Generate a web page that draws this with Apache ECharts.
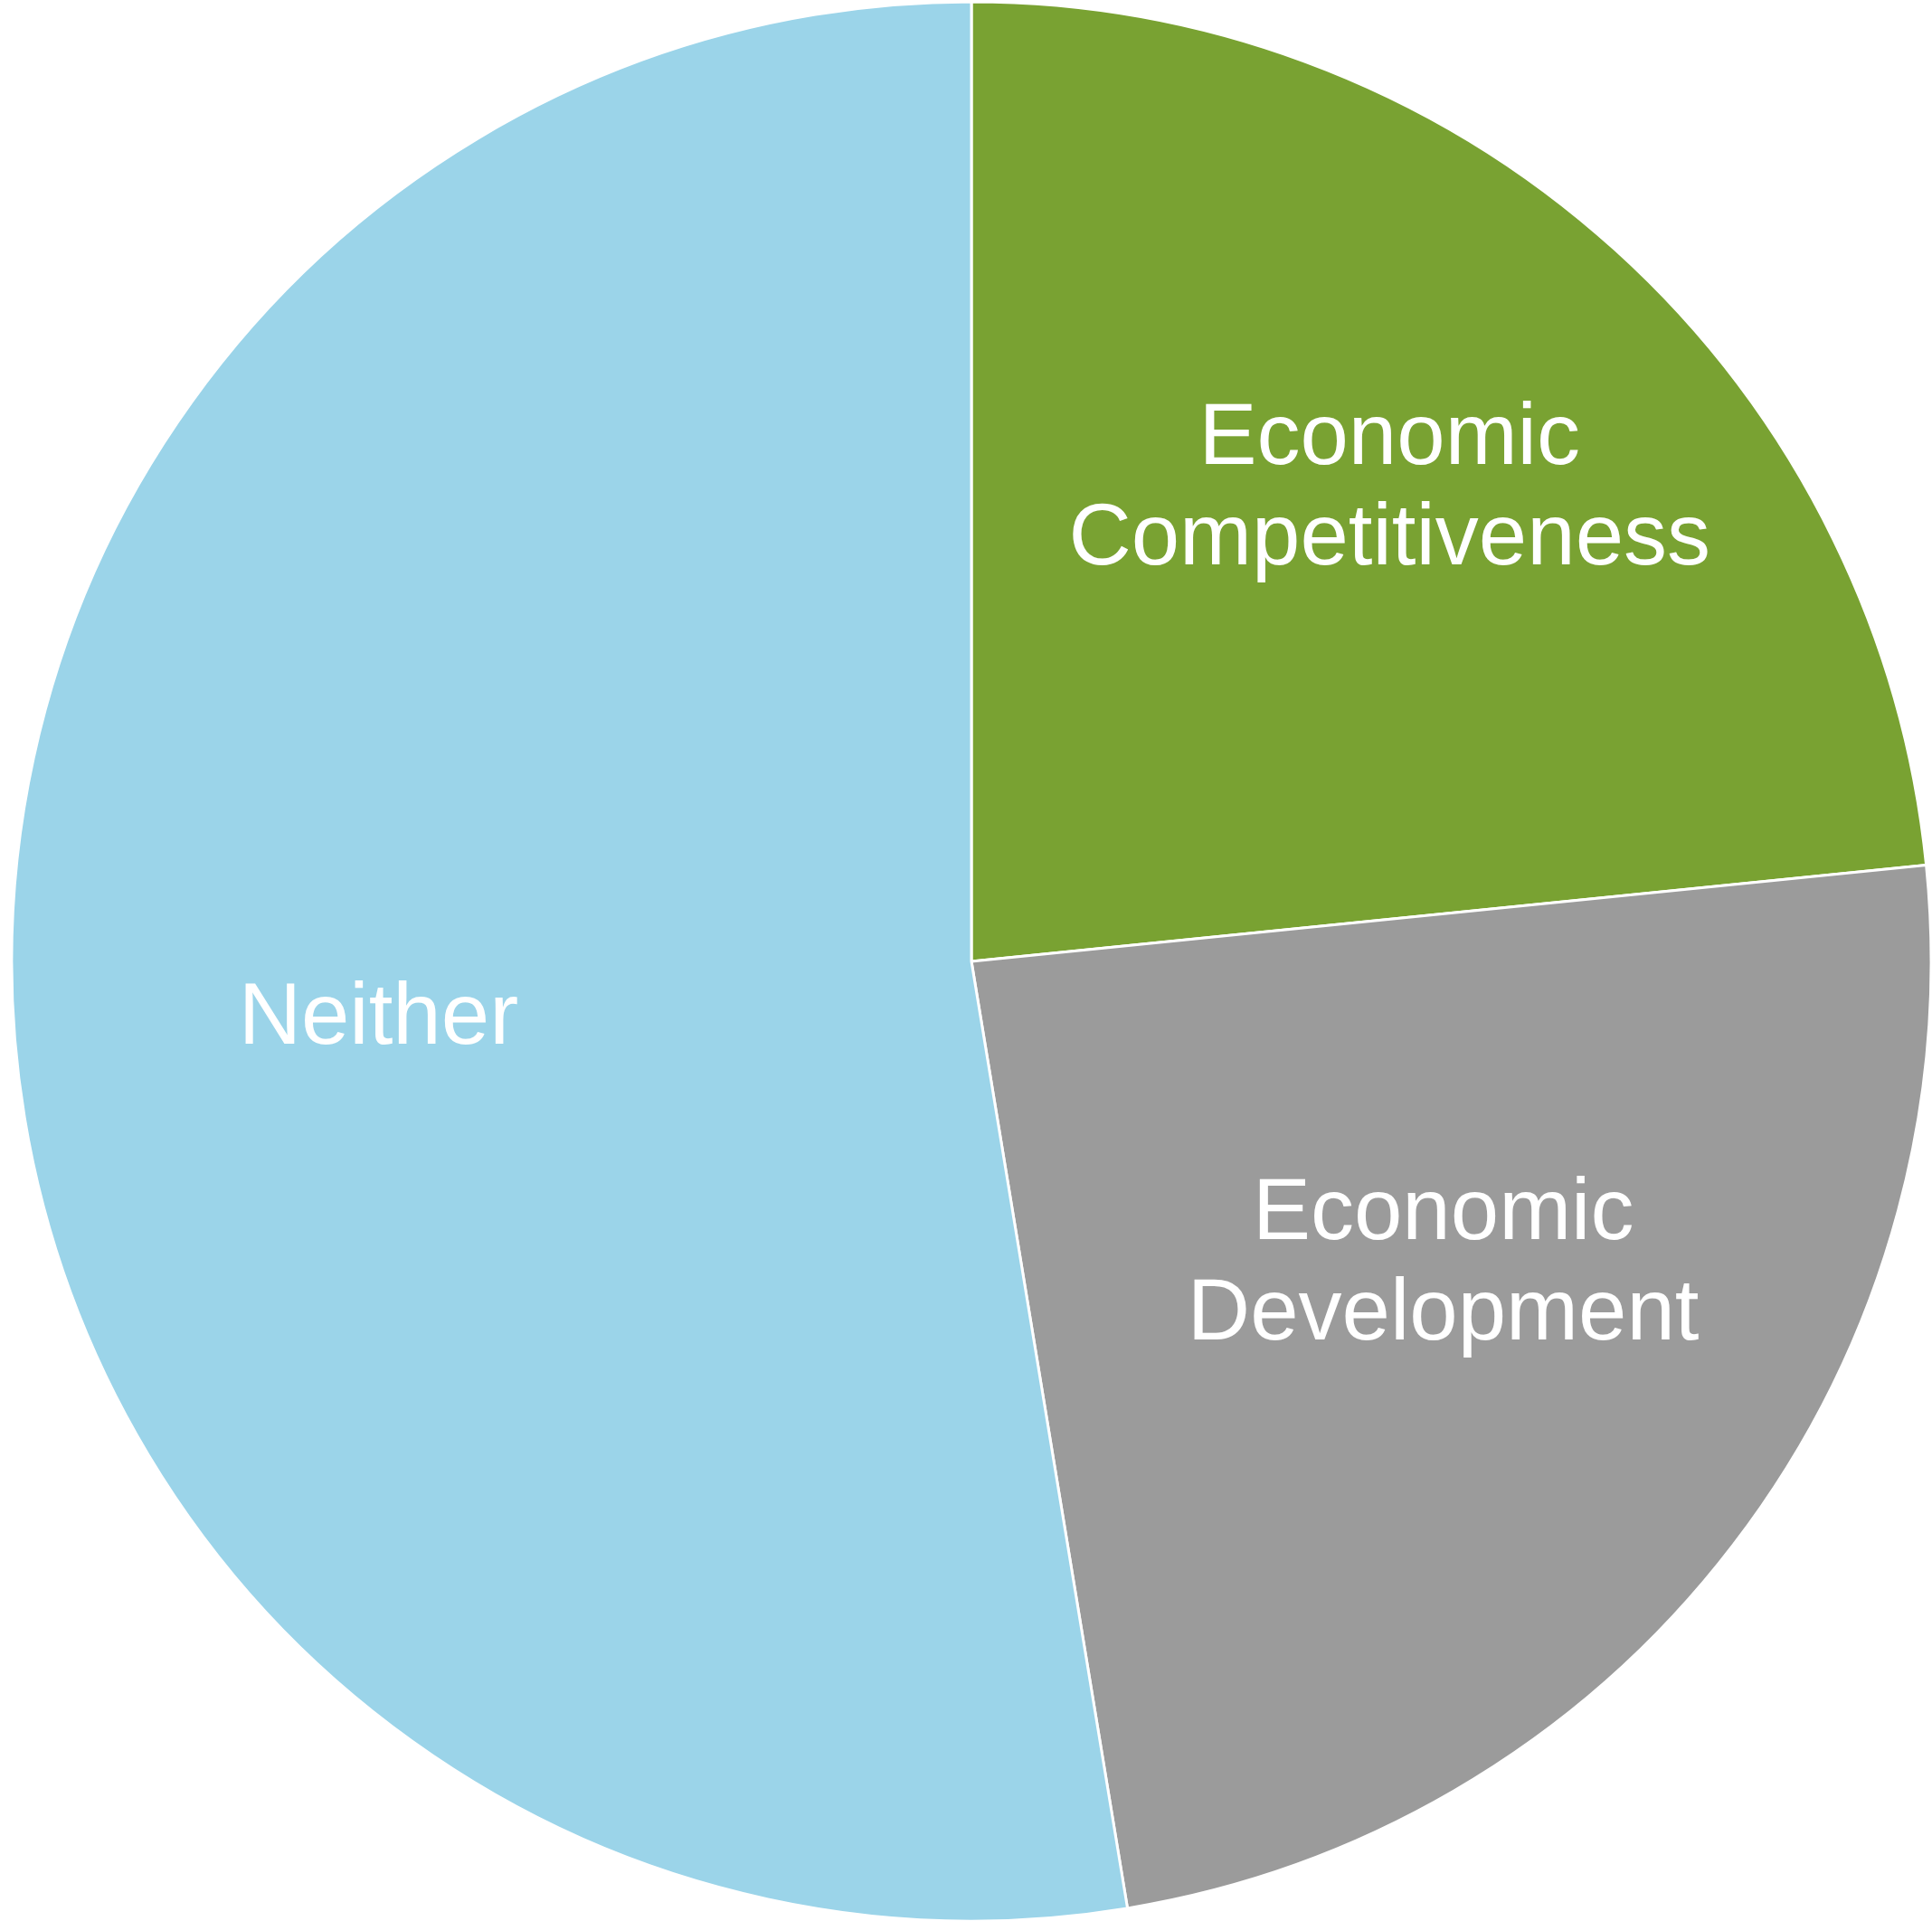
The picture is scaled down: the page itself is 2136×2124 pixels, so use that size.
<!DOCTYPE html>
<html>
<head>
<meta charset="utf-8">
<style>
  html, body { margin: 0; padding: 0; background: #ffffff; }
  #chart { width: 2136px; height: 2124px; }
</style>
<script src="https://cdn.jsdelivr.net/npm/echarts@6/dist/echarts.min.js"></script>
</head>
<body>
<div id="chart"></div>
<script>
// slice names, clockwise from 12 o'clock
const categories = ['Economic Competitiveness', 'Economic Development', 'Neither'];
// share of responses (%)
const values = [23.4, 24.0, 52.6];

const colors = ['#79a232', '#9b9b9b', '#9bd4e9'];
const R = 1061;
// labels sit a bit further out than the middle of the radius
const labelRatio = 0.62;
const labelOffsets = [[19, -31], [-3, -66], [3, 11]];

const myChart = echarts.init(document.getElementById('chart'));

let pieData = [];
let labelData = [];
for (let i = 0; i < categories.length; ++i) {
  pieData.push({
    name: categories[i],
    value: values[i],
    itemStyle: { color: colors[i] }
  });
  labelData.push({
    name: categories[i],
    value: values[i],
    label: { offset: labelOffsets[i] }
  });
}

myChart.setOption({
  animation: false,
  backgroundColor: '#ffffff',
  series: [
    {
      name: 'slices',
      type: 'pie',
      center: [1074, 1063],
      radius: [0, R],
      startAngle: 90,
      clockwise: true,
      silent: true,
      label: { show: false },
      labelLine: { show: false },
      itemStyle: {
        borderColor: '#ffffff',
        borderWidth: 3
      },
      data: pieData
    },
    {
      // transparent copy, only used to place the labels
      name: 'labels',
      type: 'pie',
      center: [1074, 1063],
      radius: [0, R * labelRatio * 2],
      startAngle: 90,
      clockwise: true,
      silent: true,
      itemStyle: { color: 'rgba(0,0,0,0)', borderWidth: 0 },
      labelLine: { show: false },
      label: {
        show: true,
        position: 'inside',
        color: '#ffffff',
        fontFamily: 'Liberation Sans, Arial, sans-serif',
        fontSize: 96,
        lineHeight: 111,
        align: 'center',
        formatter: function (p) {
          return p.name.replace(' ', '\n');
        }
      },
      data: labelData
    }
  ]
});
</script>
</body>
</html>
